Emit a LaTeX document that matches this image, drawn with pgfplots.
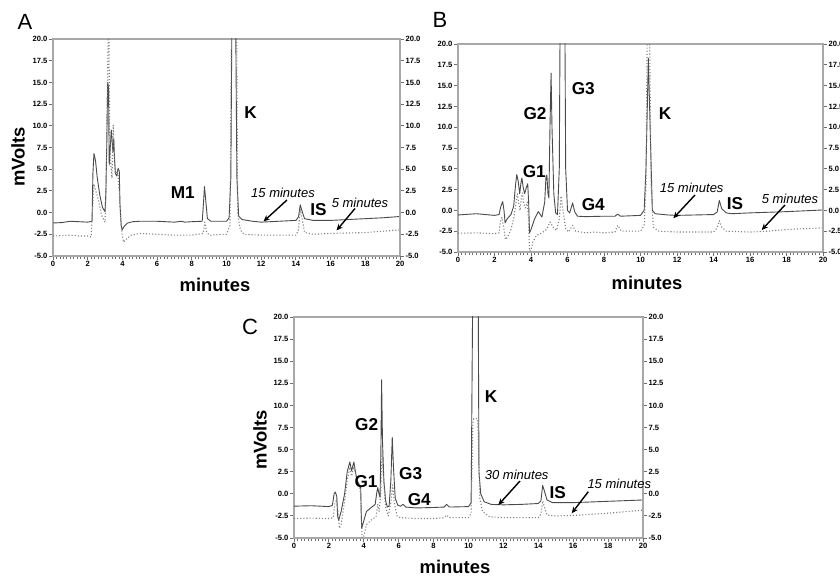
\documentclass[border=0pt]{standalone}
\usepackage{fontspec}
\setmainfont{Liberation Sans}
\usepackage{pgfplots}
\pgfplotsset{compat=1.18}
\usetikzlibrary{arrows.meta}
\definecolor{solidc}{HTML}{4A4A4A}
\definecolor{dotc}{HTML}{808080}
\definecolor{framec}{HTML}{A8A8A8}
\definecolor{tickc}{HTML}{6E6E6E}
\pgfplotsset{
  chrombase/.style={scale only axis, xmin=0, xmax=20, ymin=-5, ymax=20,
    ytick={-5,-2.5,0,2.5,5,7.5,10,12.5,15,17.5,20},
    tick align=outside,
    major tick length=2pt, minor tick length=1.4pt,
    major tick style={tickc, line width=0.45pt},
    minor tick style={tickc, line width=0.4pt},
    tick label style={font=\fontsize{3.8}{4}\selectfont\bfseries, inner sep=0.6pt},
    /pgf/number format/assume math mode=true,
    yticklabel style={/pgf/number format/.cd, fixed, fixed zerofill, precision=1},
  },
  chrom/.style={chrombase,
    axis line style={framec, line width=0.55pt},
    xtick={0,2,...,20}, minor x tick num=9,
    xtick pos=bottom, ytick pos=left,
    xticklabel style={/pgf/number format/.cd, fixed, precision=0},
  },
  chromR/.style={chrombase, axis x line=none, axis y line*=right,
    ytick pos=right, yticklabel pos=right,
    axis line style={framec, line width=0.55pt, -},
  },
  sline/.style={solidc, line width=0.45pt, line join=round},
  dline/.style={dotc, line width=0.55pt, densely dotted, line join=round},
}
\begin{document}
\begin{tikzpicture}
\useasboundingbox (0,0) rectangle (420pt,288pt);
% ---------------- Panel A ----------------
\begin{axis}[chrom, at={(26.5pt,160pt)}, anchor=south west, width=173.5pt, height=108.5pt]
\addplot[sline] coordinates {(0,-1.2) (0.5,-1.15) (1,-1.0) (1.5,-1.05) (2,-1.1) (2.25,-1.0) (2.3,4.5) (2.36,6.8) (2.45,6.0) (2.55,4.0) (2.7,2.0) (2.85,0.6) (3.0,0.1) (3.05,2.5) (3.1,8) (3.15,15) (3.2,14.5) (3.24,5.5) (3.3,7.5) (3.36,9.5) (3.4,8.5) (3.45,7) (3.5,8.5) (3.55,6) (3.6,4.5) (3.68,4.2) (3.75,5.1) (3.82,4.8) (3.86,1) (3.93,-1.5) (3.98,-2.0) (4.1,-1.6) (4.3,-1.2) (4.6,-1.05) (5,-1.0) (6,-1.0) (7,-1.1) (7.4,-1.0) (7.6,-1.1) (8,-1.05) (8.6,-1.0) (8.67,1.0) (8.73,3.0) (8.8,1.5) (8.9,-0.7) (9.1,-1.0) (10,-1.0) (10.15,-0.6) (10.25,4) (10.32,25) (10.52,25) (10.56,14) (10.6,4) (10.7,-0.4) (10.9,-0.8) (11.5,-1.0) (12,-1.1) (13,-1.0) (14,-0.9) (14.15,-0.5) (14.25,0.9) (14.35,0.2) (14.5,-0.7) (15,-0.9) (16,-0.9) (17,-0.8) (18,-0.7) (19,-0.6) (20,-0.45)};
\addplot[dline] coordinates {(0,-2.7) (0.5,-2.65) (1,-2.6) (1.5,-2.7) (2,-2.7) (2.2,-2.8) (2.27,0) (2.35,3.3) (2.45,2.6) (2.6,1.6) (2.8,-0.3) (3.0,-1.1) (3.05,2) (3.12,12) (3.18,20.5) (3.22,21) (3.27,9) (3.33,5.5) (3.4,4) (3.47,10.1) (3.52,8) (3.58,4.5) (3.66,4.8) (3.74,4.5) (3.8,3.0) (3.88,0) (3.98,-2.5) (4.06,-3.4) (4.2,-3.1) (4.5,-2.6) (5,-2.4) (6,-2.5) (7,-2.6) (8,-2.6) (8.65,-2.4) (8.75,-1.1) (8.85,-2.2) (9.0,-2.6) (10,-2.5) (10.2,-1.5) (10.3,25) (10.58,25) (10.64,0) (10.8,-2.0) (11.0,-2.5) (12,-2.6) (14,-2.6) (14.15,-2.0) (14.25,0.4) (14.35,-0.6) (14.5,-2.3) (15,-2.5) (16,-2.4) (18,-2.3) (20,-2.0)};
\end{axis}
\begin{axis}[chromR, at={(26.5pt,160pt)}, anchor=south west, width=173.5pt, height=108.5pt]
\end{axis}
% ---------------- Panel B ----------------
\begin{axis}[chrom, at={(229pt,162pt)}, anchor=south west, width=182.5pt, height=104pt]
\addplot[sline] coordinates {(0,-0.55) (1,-0.4) (2,-0.6) (2.25,-0.5) (2.35,0.5) (2.45,1.05) (2.52,0) (2.58,-1.5) (2.7,-1.0) (2.9,-0.5) (3.05,0.5) (3.15,3.0) (3.22,4.3) (3.3,3.5) (3.38,2.0) (3.45,3.3) (3.5,3.9) (3.57,2.8) (3.65,2.0) (3.75,2.8) (3.82,3.2) (3.87,1.0) (3.92,-2.7) (4.0,-2.3) (4.2,-1.0) (4.4,-0.15) (4.6,-0.8) (4.75,1.0) (4.82,4.0) (4.87,4.25) (4.93,2.0) (4.98,1.5) (5.04,10) (5.1,16.5) (5.15,10) (5.25,2) (5.35,-0.3) (5.45,-0.5) (5.55,5) (5.6,25) (5.85,25) (5.9,5) (6.0,0.0) (6.12,-0.3) (6.28,0.9) (6.4,-0.2) (6.55,-0.7) (7,-0.75) (8,-0.7) (8.6,-0.7) (8.75,-0.45) (8.9,-0.7) (10,-0.6) (10.2,0) (10.3,5) (10.43,18.3) (10.55,8) (10.65,0) (10.8,-0.4) (11.5,-0.55) (12,-0.6) (14,-0.5) (14.2,-0.2) (14.32,1.2) (14.45,0.2) (14.7,-0.3) (15,-0.4) (16,-0.3) (18,-0.15) (20,0.05)};
\addplot[dline] coordinates {(0,-2.75) (1,-2.7) (2,-2.8) (2.25,-2.7) (2.32,-1.3) (2.4,-0.85) (2.5,-2.0) (2.6,-3.5) (2.72,-3.2) (2.9,-2.3) (3.05,-1.0) (3.15,0.5) (3.25,2.0) (3.32,1.0) (3.4,0) (3.47,1.5) (3.53,2.1) (3.6,0.8) (3.7,0.3) (3.8,1.0) (3.86,-1) (3.92,-4.9) (4.0,-4.8) (4.1,-3.8) (4.3,-3.0) (4.6,-2.7) (4.85,-2.3) (5.05,-1.4) (5.2,-2.0) (5.4,-2.4) (5.55,-1.0) (5.65,1.7) (5.75,0) (5.9,-2.2) (6.05,-2.6) (6.28,-1.8) (6.45,-2.5) (7,-2.7) (7.5,-2.6) (8,-2.7) (8.6,-2.6) (8.75,-1.8) (8.95,-2.5) (10,-2.5) (10.2,-1.8) (10.3,3) (10.38,25) (10.48,25) (10.58,3) (10.7,-2.0) (11,-2.5) (12,-2.6) (14,-2.6) (14.2,-2.1) (14.32,-1.25) (14.45,-2.0) (14.7,-2.5) (16,-2.6) (17,-2.5) (18,-2.3) (20,-2.1)};
\end{axis}
\begin{axis}[chromR, at={(229pt,162pt)}, anchor=south west, width=182.5pt, height=104pt]
\end{axis}
% ---------------- Panel C ----------------
\begin{axis}[chrom, at={(147pt,19pt)}, anchor=south west, width=174.5pt, height=110.5pt]
\addplot[sline] coordinates {(0,-1.4) (1,-1.35) (2,-1.45) (2.2,-1.3) (2.3,0) (2.37,0.2) (2.45,-0.3) (2.5,-2.5) (2.56,-3.0) (2.7,-2.0) (2.9,0) (3.05,2.5) (3.2,3.6) (3.3,2.6) (3.43,3.6) (3.52,2.5) (3.62,1.5) (3.75,1.0) (3.82,0.8) (3.85,-2) (3.88,-3.9) (3.98,-3.2) (4.15,-2.0) (4.4,-1.6) (4.65,-1.2) (4.75,0.2) (4.8,0.7) (4.87,0) (4.93,-0.4) (4.98,5) (5.02,12.9) (5.07,6) (5.15,1.5) (5.25,-0.8) (5.35,-1.5) (5.45,-1.4) (5.55,1.5) (5.63,6.4) (5.7,3) (5.8,-0.5) (5.95,-1.3) (6.1,-1.4) (6.25,-1.2) (6.4,-1.5) (7,-1.6) (8,-1.55) (8.6,-1.5) (8.75,-1.2) (8.9,-1.5) (10,-1.45) (10.15,-1.0) (10.25,25) (10.55,25) (10.6,2.5) (10.7,0) (10.9,-0.9) (11.3,-1.2) (12,-1.25) (13,-1.2) (14,-1.1) (14.15,-0.8) (14.25,0.95) (14.35,0.3) (14.5,-0.7) (14.8,-1.0) (16,-1.0) (18,-0.85) (20,-0.7)};
\addplot[dline] coordinates {(0,-2.8) (1,-2.75) (2,-2.8) (2.25,-2.7) (2.35,-1.0) (2.45,-0.7) (2.52,-2.0) (2.6,-3.9) (2.7,-3.5) (2.85,-1.5) (3.05,1.5) (3.2,3.0) (3.3,2.0) (3.43,3.1) (3.55,2.0) (3.65,1.2) (3.75,0.8) (3.82,0) (3.9,-5) (4.0,-4.8) (4.15,-3.5) (4.4,-3.0) (4.7,-2.6) (4.8,-1.2) (4.88,-2.0) (4.97,0) (5.05,4.5) (5.12,2) (5.25,-1.5) (5.4,-2.5) (5.55,-1.0) (5.65,1.0) (5.75,-1.0) (5.9,-2.5) (6.1,-2.7) (7,-2.8) (8,-2.8) (8.6,-2.7) (8.75,-2.4) (8.9,-2.7) (10,-2.7) (10.15,-2.2) (10.25,8) (10.3,8.5) (10.5,8.5) (10.55,7) (10.65,-0.5) (10.8,-2.0) (11.2,-2.6) (12,-2.7) (14,-2.7) (14.15,-2.3) (14.25,-0.8) (14.35,-1.5) (14.5,-2.4) (15,-2.5) (16,-2.45) (18,-2.2) (20,-1.85)};
\end{axis}
\begin{axis}[chromR, at={(147pt,19pt)}, anchor=south west, width=174.5pt, height=110.5pt]
\end{axis}
% ---------------- Labels (pixel coordinates) ----------------
\begin{scope}[x=0.5pt, y=-0.5pt, shift={(0pt,288pt)}]
\tikzset{lab/.style={font=\fontsize{8.6}{9}\selectfont\bfseries, inner sep=0pt},
         tlab/.style={font=\fontsize{6.5}{7}\selectfont\itshape, inner sep=0pt},
         big/.style={font=\fontsize{9.2}{10}\selectfont\bfseries, inner sep=0pt},
         pan/.style={font=\fontsize{11}{12}\selectfont, inner sep=0pt},
         arr/.style={-{Stealth[length=3.2pt,width=2.8pt]}, line width=0.7pt, black}}
% panel letters
\node[pan] at (25,22) {A};
\node[pan] at (440,20) {B};
\node[pan] at (250,327) {C};
% axis titles
\node[big] at (215,285) {minutes};
\node[big] at (647,283) {minutes};
\node[big] at (455,567) {minutes};
\node[big, rotate=90] at (18,157) {mVolts};
\node[big, rotate=90] at (260,440) {mVolts};
% Panel A
\node[lab] at (182.7,193) {M1};
\node[lab] at (250.7,113) {K};
\node[tlab] at (283,193) {15 minutes};
\draw[arr] (287,200) -- (263.5,221.5);
\node[lab] at (318.5,210) {IS};
\node[tlab] at (360,202.5) {5 minutes};
\draw[arr] (355,208.5) -- (336.5,230.5);
% Panel B
\node[lab] at (535,113.3) {G2};
\node[lab] at (583.3,88.3) {G3};
\node[lab] at (534.3,171.7) {G1};
\node[lab] at (593.3,205) {G4};
\node[lab] at (665,113.3) {K};
\node[tlab] at (691.7,188.3) {15 minutes};
\draw[arr] (695,195) -- (673.3,218.3);
\node[lab] at (735,203.3) {IS};
\node[tlab] at (790,199.3) {5 minutes};
\draw[arr] (785,205) -- (761.7,230);
% Panel C
\node[lab] at (366.7,425) {G2};
\node[lab] at (366,481.7) {G1};
\node[lab] at (410.7,473.3) {G3};
\node[lab] at (419.3,500) {G4};
\node[lab] at (491,396.7) {K};
\node[tlab] at (516.7,475) {30 minutes};
\draw[arr] (520,481) -- (498.3,505);
\node[lab] at (557.7,492.3) {IS};
\node[tlab] at (619.3,484) {15 minutes};
\draw[arr] (588.3,491.7) -- (571.7,513.3);
\end{scope}
\end{tikzpicture}
\end{document}
